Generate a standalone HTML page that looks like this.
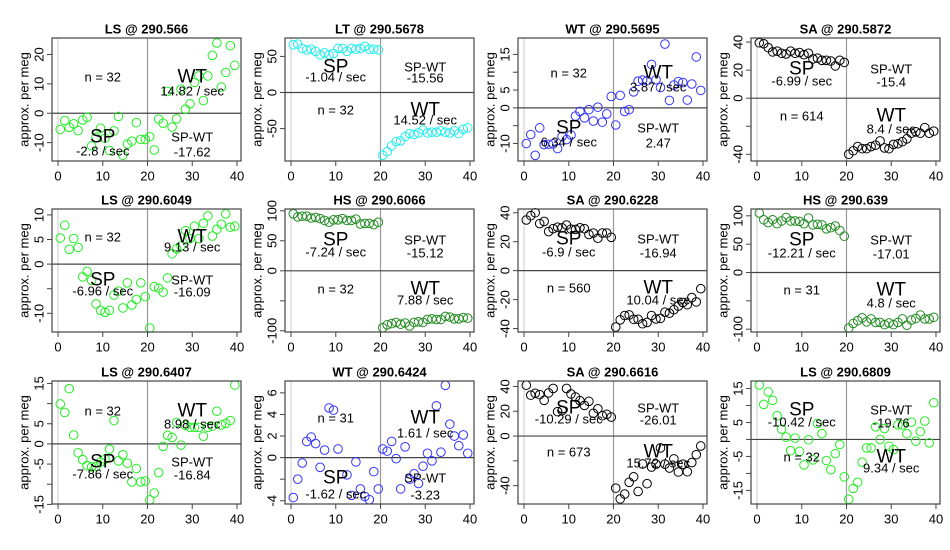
<!DOCTYPE html>
<html><head><meta charset="utf-8"><style>
html,body{margin:0;padding:0;background:#fff;}
svg{display:block;font-family:"Liberation Sans",sans-serif;}
</style></head><body>
<svg id="chart" width="950" height="550" viewBox="0 0 950 550"></svg>
<script>
const titles=["LS @ 290.566","LT @ 290.5678","WT @ 290.5695","SA @ 290.5872","LS @ 290.6049","HS @ 290.6066","SA @ 290.6228","HS @ 290.639","LS @ 290.6407","WT @ 290.6424","SA @ 290.6616","LS @ 290.6809"];
const colors=["#22ee22","#22eeee","#3333ff","#000000","#22ee22","#228b22","#000000","#228b22","#22ee22","#3333ff","#000000","#22ee22"];
const nLabels=["n = 32","n = 32","n = 32","n = 614","n = 32","n = 32","n = 560","n = 31","n = 32","n = 31","n = 673","n = 32"];
const spRates=["-2.8 / sec","-1.04 / sec","6.34 / sec","-6.99 / sec","-6.96 / sec","-7.24 / sec","-6.9 / sec","-12.21 / sec","-7.86 / sec","-1.62 / sec","-10.29 / sec","-10.42 / sec"];
const wtRates=["14.82 / sec","14.52 / sec","3.87 / sec","8.4 / sec","9.13 / sec","7.88 / sec","10.04 / sec","4.8 / sec","8.98 / sec","1.61 / sec","15.72 / sec","9.34 / sec"];
const diffs=["-17.62","-15.56","2.47","-15.4","-16.09","-15.12","-16.94","-17.01","-16.84","-3.23","-26.01","-19.76"];
const spUpper=[false,true,false,true,false,true,true,true,false,false,true,true];
const yDomains=[[-16.25,25.6],[-94.9,75.5],[-14.9,19.6],[-44.8,42.9],[-13.8,11.2],[-102,103],[-42.4,42.6],[-105,112],[-14.9,15.6],[-4.3,7.1],[-54.8,44.4],[-19,17.2]];
const yTicks=[[-10,0,10,20],[-50,0,50],[-10,-5,0,5,10,15],[-40,-20,0,20,40],[-10,-5,0,5,10],[-100,-50,0,50,100],[-40,-20,0,20,40],[-100,-50,0,50,100],[-15,-10,-5,0,5,10,15],[-4,-2,0,2,4,6],[-40,-20,0,20,40],[-15,-10,-5,0,5,10,15]];
const yTickLabels=[["-10","0","10","20"],["-50","0","50"],["-10","","0","5","","15"],["-40","","0","20","40"],["-10","","0","5","10"],["-100","","0","50","100"],["-40","-20","0","20","40"],["-100","","0","50","100"],["-15","","-5","0","5","","15"],["-4","","0","2","4","6"],["-40","","0","20","40"],["-15","","-5","","5","","15"]];
const xTicks=[0,10,20,30,40];
const series=[
[-5.5,-2.5,-4.8,-3.6,-5.9,-2.3,-1.4,-11.1,-8.2,-5.1,-8.5,-12.7,-6,-1.1,-14.3,-10.5,-9.5,-3.2,-8.9,-8.9,-8,-12.5,-2,-3.4,7.4,-4.7,-1.9,8.2,1.4,3.2,10.5,12.7,4.3,12.7,19.7,23.9,8.9,13.9,23,16.3],
[66,67,61,59,60,57,52,55,52,54,61,61,57,61,60,61,64,60,60,59,-87,-82,-74,-68,-67,-61,-57,-58,-56,-52,-56,-55,-55,-53,-55,-56,-53,-57,-51,-49],
[-10,-7.5,-13.3,-5.6,-10.3,-10.2,-10.1,-11.4,-8,-8.9,-7.6,-2.3,-1,-2.8,-0.5,-3.7,0.2,-4,-1.7,3.2,-4.8,3.5,-1,-0.5,4.5,7.5,7.8,7.6,12.2,7.9,5.7,17.9,2.1,6.4,7.4,7.1,2.2,6.7,14.3,4.9],
[39.5,38.8,36,33,33.5,32,31.5,33.5,32,32.5,31,32,28,28.5,27,27,26.5,23,27,25.5,-40,-37.5,-34.5,-36,-36,-34.5,-33.5,-30.5,-35.5,-36,-33,-32.5,-31,-29,-25,-24,-25,-21,-25,-23.5],
[5.3,7.9,3,5.2,3.4,-2.6,-1.5,-3.3,-8.1,-9.4,-9.8,-9.4,-6.3,-5.5,-8.9,-3.8,-8.3,-7.2,-3.8,-6.6,-13,-4.6,-4.9,-5.7,-2.8,2.1,3.1,3.7,6.8,5.2,7.7,5.2,8.3,9.8,5.7,7.1,8.1,10.2,7.5,7.7],
[95,90,91,91,88,89,87,84,81,85,85,87,84,84,86,78,79,79,77,81,-95,-90,-88,-86,-89,-87,-92,-86,-85,-86,-81,-80,-81,-81,-76,-77,-80,-80,-78,-79],
[35,38,40,32.5,34,27,29,30,29.6,31.5,28.7,28.5,29.6,29,25,26,22.4,26,26,23,-39,-34,-31,-30.6,-33.6,-33.6,-36.7,-35.8,-31,-33.4,-33,-28.7,-29.4,-27,-24.5,-22,-23.5,-18.6,-21.6,-12.5],
[105,93,88,93,86,91,97,91,91,90,86,96,84,85,84,77,79,82,74,64,-98,-90,-85,-80,-87,-82,-88,-88,-92,-89,-92,-88,-82,-93,-84,-81,-75,-82,-82,-79],
[9.9,7.8,13.7,2.2,-2.2,-3.9,-5.4,-5.7,-5.6,-4.5,-3.8,-1.3,5.8,-4.2,-2.7,-4.8,-9.4,-6.1,-9.4,-9.2,-13.9,-12.2,-7.1,-0.6,2.1,1.6,5.3,-0.3,4.6,4.1,4.1,4.1,1.9,4.1,4.4,8.1,4.7,5.1,5.8,14.6],
[-3.7,-2,-0.5,1.5,1.9,1.3,-0.9,0.7,4.6,4.4,0.8,null,-1.6,-3.5,-0.4,-2.9,-3.6,-3.9,-1.3,-2.9,0.8,0.6,1.5,-0.1,-2.9,1,-2,-1.5,-2.4,-0.8,0.4,-0.3,4.8,0.5,6.7,3.1,2,1.1,2.1,0.4],
[41,33,34.5,33.4,28.8,34.8,38.4,19.7,20.5,38.4,34,31.5,28.5,24.7,28,18.4,22,16.4,17.5,15.3,-42,-50.7,-46.8,-37.3,-32.9,-44.7,-22.5,-38.4,-25,-22.7,-9.6,-22.7,-25.8,-18.4,-29,-22.7,-28.8,-21.4,-15,-8],
[16,10.3,14,11.5,7,3,0.7,-3.3,0.4,-3.5,-7.5,-0.1,-6,4.7,1.7,-6.2,-8.9,-4.2,-1.5,-11,-17.6,-14.4,-12.6,-6.7,-2.5,-2.5,3.7,0,3.2,-2,-3,4.3,4.3,1.7,5.1,-0.5,2.3,5.4,-1,10.8]
];
const NS="http://www.w3.org/2000/svg";
const svg=document.getElementById('chart');
const boxL=[52,285,518,751], boxT=[38,209,381], BW=189, BH=123;
const annY=[[39,53,99,113],[29,39,72,82],[35,49,90,104],[31,43,78,91],[28,38,71,82],[31,43,80,91],[30,43,79,91],[31,44,81,94],[30,43,81,93],[37,52,97,113],[27,38,71,82],[29,41,76,87]];
function mk(tag,attrs,parent){const e=document.createElementNS(NS,tag);for(const k in attrs)e.setAttribute(k,attrs[k]);(parent||svg).appendChild(e);return e;}
function txt(parent,x,y,s,size,extra){const t=mk('text',Object.assign({x:x,y:y,'font-size':size,'text-anchor':'middle','dominant-baseline':'central',fill:'#000'},extra||{}),parent);t.textContent=s;return t;}
titles.forEach((title,p)=>{
  const L=boxL[p%4], T=boxT[Math.floor(p/4)];
  const dom=yDomains[p];
  const xs=v=>L+(v+1.35)/(42.25)*BW;
  const ys=v=>T+BH-(v-dom[0])/(dom[1]-dom[0])*BH;
  const g=mk('g',{});
  
  
  const tt=txt(g,L+BW/2,T-9,title,13,{'font-weight':'bold'});
  
  
  const yl=txt(g,L-28,T+BH/2,'approx. per meg',13,{transform:`rotate(-90 ${L-28} ${T+BH/2})`});
  
  
  mk('line',{x1:xs(0),x2:xs(0),y1:T,y2:T+BH,stroke:'#e4e4e4','stroke-width':2},g);
  mk('line',{x1:xs(20),x2:xs(20),y1:T,y2:T+BH,stroke:'#999','stroke-width':1.2},g);
  mk('line',{x1:L,x2:L+BW,y1:ys(0),y2:ys(0),stroke:'#444','stroke-width':1.2},g);
  yTicks[p].forEach((v,i)=>{
    mk('line',{x1:L-5,x2:L,y1:ys(v),y2:ys(v),stroke:'#444'},g);
    if(yTickLabels[p][i]){const t=txt(g,L-13,ys(v),yTickLabels[p][i],13,{transform:`rotate(-90 ${L-13} ${ys(v)})`});
    
    }
  });
  xTicks.forEach(v=>{
    mk('line',{x1:xs(v),x2:xs(v),y1:T+BH,y2:T+BH+5,stroke:'#444'},g);
    const t=txt(g,xs(v),T+BH+15,String(v),13);
    
    
  });
  series[p].forEach((v,i)=>{
    if(v===null)return;
    const c=mk('circle',{cx:xs(i+0.5),cy:ys(v),r:4.3,fill:'none',stroke:colors[p],'stroke-width':1},g);
    
    
  });
  const a=annY[p];
  const cxL=xs(10), cxR=xs(30);
  let spY, wtY;
  if(spUpper[p]){spY=[a[0],a[1]];wtY=[a[2],a[3]];}else{spY=[a[2],a[3]];wtY=[a[0],a[1]];}
  const nY=spUpper[p]?a[2]:a[0], dY=spUpper[p]?a[0]:a[2], dY2=spUpper[p]?a[1]:a[3];
  const e1=txt(g,cxL,T+spY[0],'SP',19);
  const e2=txt(g,cxL,T+spY[1],spRates[p],13);
  const e3=txt(g,cxR,T+wtY[0],'WT',19);
  const e4=txt(g,cxR,T+wtY[1],wtRates[p],13);
  const e5=txt(g,cxL,T+nY,nLabels[p],13);
  const e6=txt(g,cxR,T+dY,'SP-WT',13);
  const e7=txt(g,cxR,T+dY2+1,diffs[p],13);
  mk('rect',{x:L,y:T,width:BW,height:BH,fill:'none',stroke:'#444','stroke-width':1.2},g);
});
</script>
</body></html>
